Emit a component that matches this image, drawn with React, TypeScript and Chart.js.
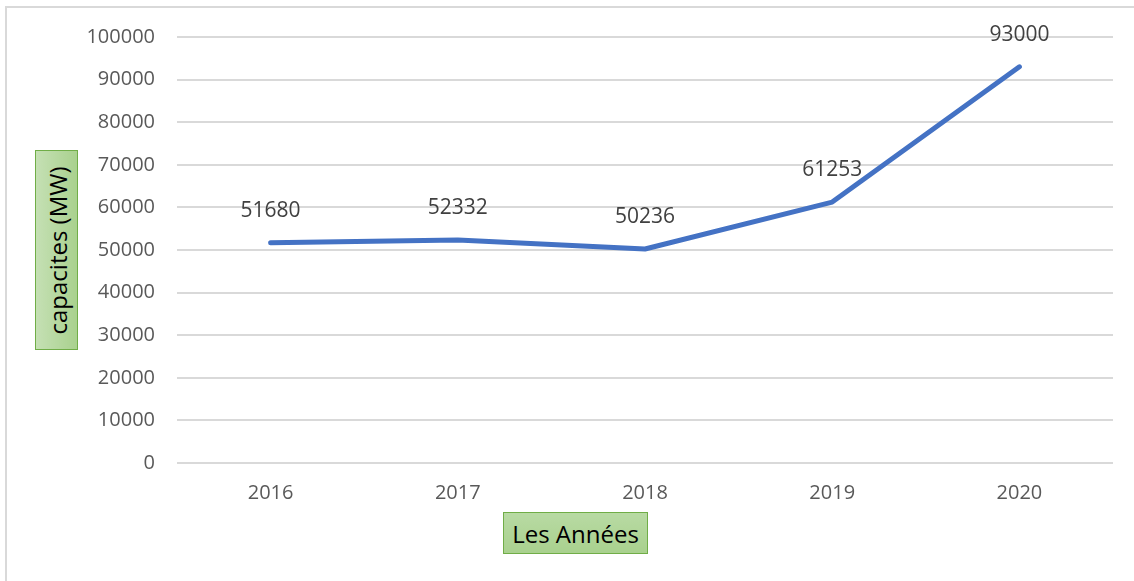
import React, { useEffect, useRef } from "react";
import { Chart, registerables } from "chart.js";

Chart.register(...registerables);

const years = ["2016", "2017", "2018", "2019", "2020"];
const capacities = [51680, 52332, 50236, 61253, 93000];
const yTitle = "capacites (MW)";
const xTitle = "Les Années";

const FONT = "'Open Sans', sans-serif";

const labelPlugin = {
  id: "pointLabels",
  afterDatasetsDraw(chart: any) {
    const ctx = chart.ctx;
    const meta = chart.getDatasetMeta(0);
    ctx.save();
    ctx.font = `21px ${FONT}`;
    ctx.fillStyle = "#404040";
    ctx.textAlign = "center";
    ctx.textBaseline = "middle";
    meta.data.forEach((pt: any, i: number) => {
      ctx.fillText(String(capacities[i]), pt.x, pt.y - 32);
    });
    ctx.restore();
  },
};

export default function App() {
  const ref = useRef<HTMLCanvasElement>(null);
  useEffect(() => {
    if (!ref.current) return;
    const chart = new Chart(ref.current, {
      type: "line",
      data: {
        labels: years,
        datasets: [
          {
            data: capacities,
            borderColor: "#4472C4",
            borderWidth: 5,
            borderCapStyle: "round",
            borderJoinStyle: "round",
            pointRadius: 0,
            tension: 0,
            fill: false,
          },
        ],
      },
      options: {
        animation: false,
        responsive: false,
        maintainAspectRatio: false,
        layout: { padding: { top: 37, right: 21, bottom: 0, left: 0 } },
        plugins: { legend: { display: false }, tooltip: { enabled: false } },
        scales: {
          x: {
            type: "category",
            offset: true,
            grid: { display: false, drawTicks: false },
            border: { display: false },
            ticks: { color: "#595959", font: { family: FONT, size: 20 }, padding: 18 },
            afterFit: (s: any) => {
              s.height = 118;
            },
          },
          y: {
            min: 0,
            max: 100000,
            grid: { color: "#D9D9D9", lineWidth: 2, drawTicks: false },
            border: { display: false },
            ticks: {
              stepSize: 10000,
              color: "#595959",
              font: { family: FONT, size: 20 },
              padding: 22,
              callback: (v: any) => String(v),
            },
            afterFit: (s: any) => {
              s.width = 177;
            },
          },
        },
      },
      plugins: [labelPlugin],
    });
    return () => chart.destroy();
  }, []);

  const boxStyle: React.CSSProperties = {
    position: "absolute",
    boxSizing: "border-box",
    border: "1.5px solid #70AD47",
    background: "linear-gradient(to right, #C5E0B4, #A9D18E)",
    fontFamily: FONT,
    fontSize: 24,
    color: "#000",
    display: "flex",
    alignItems: "center",
    justifyContent: "center",
    whiteSpace: "nowrap",
  };

  return (
    <div style={{ position: "fixed", left: 0, top: 0, width: 1134, height: 581, overflow: "hidden", background: "#fff" }}>
      <div
        style={{
          position: "absolute",
          left: 5,
          top: 6,
          width: 1150,
          height: 600,
          border: "2px solid #D9D9D9",
          boxSizing: "border-box",
        }}
      />
      <canvas ref={ref} width={1134} height={581} style={{ position: "absolute", left: 0, top: 0 }} />
      <div style={{ ...boxStyle, left: 35, top: 150, width: 43, height: 200 }}>
        <span style={{ transform: "rotate(-90deg)", display: "inline-block" }}>{yTitle}</span>
      </div>
      <div
        style={{
          ...boxStyle,
          left: 503,
          top: 512,
          width: 145,
          height: 42,
          background: "linear-gradient(to bottom, #B8DAA3, #A9D18E)",
        }}
      >
        {xTitle}
      </div>
    </div>
  );
}
